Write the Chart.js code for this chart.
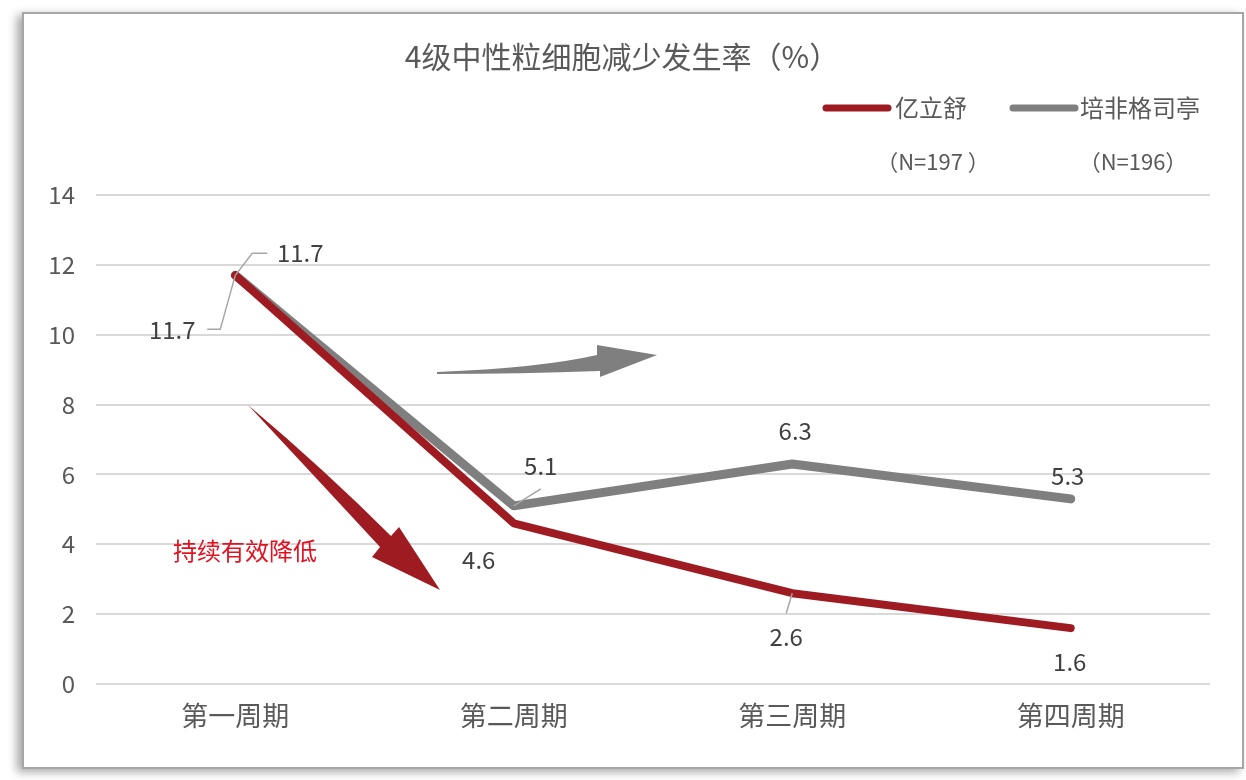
<!DOCTYPE html>
<html>
<head>
<meta charset="utf-8">
<script src="https://cdn.jsdelivr.net/npm/chart.js@4.4.1/dist/chart.umd.min.js"></script>
<style>
  html, body { margin: 0; padding: 0; background: #ffffff; width: 1246px; height: 780px; overflow: hidden; }
  #frame { position: absolute; left: 22px; top: 12px; width: 1218px; height: 753px; border: 2px solid #a6a6a6; background: #fff;
           box-shadow: -5px 3px 9px rgba(0,0,0,0.35); }
  #wrap { position: absolute; left: 0; top: 0; width: 1246px; height: 780px; }
</style>
</head>
<body>
<div id="frame"></div>
<div id="wrap"><canvas id="c" width="1246" height="780"></canvas></div>
<script>
const categories = ['第一周期', '第二周期', '第三周期', '第四周期'];
const seriesNames = ['亿立舒', '培非格司亭'];
const seriesN = ['（N=197 ）', '（N=196）'];
const yiLiShu = [11.7, 4.6, 2.6, 1.6];
const peiFeiGeSiTing = [11.7, 5.1, 6.3, 5.3];
const yTicks = [0, 2, 4, 6, 8, 10, 12, 14];
const titleText = '4级中性粒细胞减少发生率（%）';
const noteText = '持续有效降低';

const RED = '#9e1b22';
const GRAY = '#7f7f7f';
const FONT = '"Noto Sans CJK SC", "Noto Sans", sans-serif';

// label offsets (px) relative to each point, and leader-line paths (relative offsets)
const labelOffsets = [
  [[-63, 55], [-35, 37], [-6, 44], [-1, 34]],
  [[65, -22], [27, -40], [3, -33], [-3, -23]]
];
const leaders = [
  [[[-28, 54], [-15, 54], [0, 0]], null, [[-6, 20], [0, 0]], null],
  [[[32, -22], [17, -22], [0, 0]], [[27, -17], [0, 0]], null, null]
];

// reference geometry of decorative arrows, expressed in the reference chart-area frame
const REF = { left: 96, top: 195, width: 1114, height: 489 };

const decorPlugin = {
  id: 'decor',
  afterDatasetsDraw(chart) {
    const ctx = chart.ctx;
    const ca = chart.chartArea;
    const R = (px, py) => [ca.left + (px - REF.left) / REF.width * (ca.right - ca.left),
                           ca.top + (py - REF.top) / REF.height * (ca.bottom - ca.top)];
    ctx.save();
    // grey arrow (rightwards)
    ctx.fillStyle = GRAY;
    ctx.beginPath();
    let p = R(437, 372); ctx.moveTo(p[0], p[1]);
    let c = R(540, 368); let q = R(597, 355); ctx.quadraticCurveTo(c[0], c[1], q[0], q[1]);
    p = R(597, 345); ctx.lineTo(p[0], p[1]);
    p = R(657, 355); ctx.lineTo(p[0], p[1]);
    p = R(600, 377); ctx.lineTo(p[0], p[1]);
    p = R(600, 371); ctx.lineTo(p[0], p[1]);
    c = R(520, 374); q = R(437, 374); ctx.quadraticCurveTo(c[0], c[1], q[0], q[1]);
    ctx.closePath(); ctx.fill();
    // red arrow (down-right)
    ctx.fillStyle = RED;
    ctx.beginPath();
    p = R(248, 405); ctx.moveTo(p[0], p[1]);
    c = R(325, 470); q = R(391, 536); ctx.quadraticCurveTo(c[0], c[1], q[0], q[1]);
    p = R(399, 527); ctx.lineTo(p[0], p[1]);
    p = R(440, 590); ctx.lineTo(p[0], p[1]);
    p = R(372, 557); ctx.lineTo(p[0], p[1]);
    p = R(380, 547); ctx.lineTo(p[0], p[1]);
    c = R(318, 480); q = R(248, 405); ctx.quadraticCurveTo(c[0], c[1], q[0], q[1]);
    ctx.closePath(); ctx.fill();
    // note text
    ctx.fillStyle = '#e3101f';
    ctx.font = '24px ' + FONT;
    ctx.textAlign = 'left';
    ctx.textBaseline = 'middle';
    p = R(173, 551);
    ctx.fillText(noteText, p[0], p[1]);

    // data labels & leader lines
    chart.data.datasets.forEach((ds, di) => {
      const meta = chart.getDatasetMeta(di);
      meta.data.forEach((pt, i) => {
        const ld = leaders[di][i];
        if (ld) {
          ctx.strokeStyle = '#a6a6a6';
          ctx.lineWidth = 1.5;
          ctx.beginPath();
          ld.forEach((o, k) => {
            if (k === 0) ctx.moveTo(pt.x + o[0], pt.y + o[1]); else ctx.lineTo(pt.x + o[0], pt.y + o[1]);
          });
          ctx.stroke();
        }
        const off = labelOffsets[di][i];
        ctx.fillStyle = '#404040';
        ctx.font = '24px ' + FONT;
        ctx.textAlign = 'center';
        ctx.textBaseline = 'middle';
        ctx.fillText(String(ds.data[i]), pt.x + off[0], pt.y + off[1]);
      });
    });

    // title
    ctx.fillStyle = '#595959';
    ctx.font = '30px ' + FONT;
    ctx.textAlign = 'center';
    ctx.textBaseline = 'middle';
    ctx.fillText(titleText, 622, 57);

    // legend
    const legendItems = [
      { color: RED, x1: 826, x2: 888, tx: 895, nx: 933 },
      { color: GRAY, x1: 1013, x2: 1075, tx: 1080, nx: 1133 }
    ];
    legendItems.forEach((it, k) => {
      ctx.strokeStyle = it.color;
      ctx.lineWidth = 7;
      ctx.lineCap = 'round';
      ctx.beginPath(); ctx.moveTo(it.x1, 108); ctx.lineTo(it.x2, 108); ctx.stroke();
      ctx.fillStyle = '#595959';
      ctx.font = '24px ' + FONT;
      ctx.textAlign = 'left';
      ctx.fillText(seriesNames[k], it.tx, 108);
      ctx.font = '22px ' + FONT;
      ctx.textAlign = 'center';
      ctx.fillText(seriesN[k], it.nx, 162);
    });
    ctx.restore();
  }
};

new Chart(document.getElementById('c'), {
  type: 'line',
  data: {
    labels: categories,
    datasets: [
      { label: seriesNames[0], data: yiLiShu, borderColor: RED, backgroundColor: RED, borderWidth: 8,
        pointRadius: 0, borderJoinStyle: 'round', borderCapStyle: 'round', tension: 0 },
      { label: seriesNames[1], data: peiFeiGeSiTing, borderColor: GRAY, backgroundColor: GRAY, borderWidth: 9,
        pointRadius: 0, borderJoinStyle: 'round', borderCapStyle: 'round', tension: 0 }
    ]
  },
  options: {
    responsive: false,
    animation: false,
    devicePixelRatio: 1,
    layout: { padding: { top: 195, right: 36, left: 0, bottom: 0 } },
    plugins: { legend: { display: false }, title: { display: false }, tooltip: { enabled: false } },
    scales: {
      x: {
        offset: true,
        grid: { display: false, drawTicks: false, offset: true },
        border: { display: false },
        ticks: { color: '#595959', font: { size: 27, family: FONT }, padding: 16 },
        afterFit(s) { s.height = 96; }
      },
      y: {
        min: 0, max: 14,
        afterBuildTicks(s) { s.ticks = yTicks.map(v => ({ value: v })); },
        grid: { color: '#d9d9d9', lineWidth: 2, drawTicks: false },
        border: { display: false },
        ticks: { color: '#595959', font: { size: 24, family: FONT }, padding: 21 },
        afterFit(s) { s.width = 96; }
      }
    }
  },
  plugins: [decorPlugin]
});
</script>
</body>
</html>
